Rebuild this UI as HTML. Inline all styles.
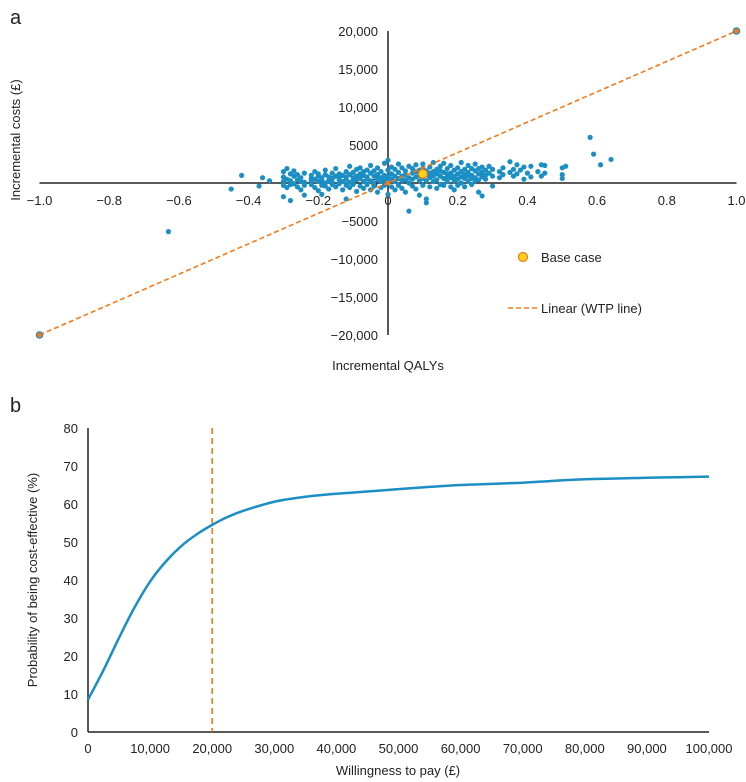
<!DOCTYPE html>
<html><head><meta charset="utf-8"><style>
html,body{margin:0;padding:0;background:#fff;}
svg{display:block;font-family:"Liberation Sans",Arial,sans-serif;}
text{fill:#222;}
</style></head><body>
<svg id="chart" width="746" height="782" viewBox="0 0 746 782" xmlns="http://www.w3.org/2000/svg"></svg>
<script>
// ---- Panel a data ----
const qalyGroups=[-0.30,-0.29,-0.28,-0.27,-0.26,-0.25,-0.24,-0.22,-0.21,-0.20,-0.19,-0.18,-0.17,-0.16,-0.15,-0.14,-0.13,-0.12,-0.11,-0.10,-0.09,-0.08,-0.07,-0.06,-0.05,-0.04,-0.03,-0.02,-0.01,0.00,0.01,0.02,0.03,0.04,0.05,0.06,0.07,0.08,0.09,0.10,0.11,0.12,0.13,0.14,0.15,0.16,0.17,0.18,0.19,0.20,0.21,0.22,0.23,0.24,0.25,0.26,0.27,0.28,0.29,0.30,0.32,0.33,0.35,0.36,0.37,0.38,0.39,0.40,0.41,0.43,0.44,0.45,0.50,0.51,0.58,0.59,0.61,0.64,-0.63,-0.45,-0.42,-0.37,-0.36,-0.34,-0.30,-0.28,-0.24,-0.19,-0.12,0.27,0.11];
const costGroups=[[1500,800,200,-300],[1900,500,-600],[1200,300,-200],[900,-100,1600],[400,1100,-500],[700,-900,200],[1300,100,-300],[600,1000,-200,300],[1500,-600,500],[200,900,-1000,1200],[700,-300,400],[1100,0,1700,-400],[300,-800,800],[1300,600,-200,100],[900,-500,1900],[400,1200,-100,700],[200,-900,1000],[1500,500,-300,800],[2200,100,-600,1100],[700,1400,-200,300],[1800,400,-1100,900],[600,1200,-400,2000],[200,1000,-700,1500],[1700,500,-200,800],[300,1300,-900,2300],[900,0,1600,-400],[1100,500,-1200,2000],[200,1500,700,-600],[1000,2600,-300,400],[800,1700,-1500,3000,300],[1200,500,-500,2100],[200,1800,900,-900],[1400,600,-300,2500],[900,2000,-700,300],[1600,400,-1200,1100],[700,2200,0,-3700],[1300,500,-400,1900],[800,2400,-800,1500],[300,1700,-1600,1000],[1900,600,-300,2500],[1100,300,-2100,1600],[700,2100,-500,1300],[1500,200,2700,900],[400,1800,-700,1200],[2200,900,-200,1600],[600,1400,2600,-300],[1900,800,200,1200],[1300,-500,2300,700],[900,1700,300,-900],[2000,1200,500,-300],[1500,2700,800,0],[600,1800,1100,-500],[2300,1400,200,900],[1000,1900,-200,600],[1600,2500,700,300],[1200,400,1900,-1200],[800,2100,1400],[1700,500,1000],[2200,1300],[900,1800,-400],[1500,700],[2000,1100],[1400,2800],[900,1800],[2400,1200],[1700],[500,2100],[1300],[2200,800],[1500],[900,2400],[2300,1300],[2000,600,1100],[2200],[6000],[3800],[2400],[3100],[-6400],[-800],[1000],[-400],[700],[300],[-1800],[-2300],[-1600],[-1500],[-2100],[-1700],[-2600]];
const baseCase=[0.1,1200];
const wtpLine=[[-1,-20000],[1,20000]];
const xTicksA=[-1.0,-0.8,-0.6,-0.4,-0.2,0,0.2,0.4,0.6,0.8,1.0];
const xTickLabelsA=["\u22121.0","\u22120.8","\u22120.6","\u22120.4","\u22120.2","0","0.2","0.4","0.6","0.8","1.0"];
const yTicksA=[20000,15000,10000,5000,0,-5000,-10000,-15000,-20000];
const yTickLabelsA=["20,000","15,000","10,000","5000","0","\u22125000","\u221210,000","\u221215,000","\u221220,000"];
// ---- Panel b data ----
const wtpValues=[0,2500,5000,7500,10000,12500,15000,17500,20000,22500,25000,30000,35000,40000,45000,50000,55000,60000,65000,70000,75000,80000,85000,90000,95000,100000];
const probValues=[8.5,16.3,24.8,32.8,39.6,44.8,48.9,52,54.5,56.6,58.2,60.6,61.9,62.7,63.3,63.9,64.5,65,65.3,65.6,66.1,66.5,66.7,66.9,67.05,67.2];
const wtpThreshold=20000;
const xTicksB=[0,10000,20000,30000,40000,50000,60000,70000,80000,90000,100000];
const xTickLabelsB=["0","10,000","20,000","30,000","40,000","50,000","60,000","70,000","80,000","90,000","100,000"];
const yTicksB=[0,10,20,30,40,50,60,70,80];

const NS="http://www.w3.org/2000/svg";
const svg=document.getElementById('chart');
function mk(tag,attrs,parent){const e=document.createElementNS(NS,tag);for(const k in attrs)e.setAttribute(k,attrs[k]);(parent||svg).appendChild(e);return e;}
function txt(s,attrs,parent){const e=mk('text',attrs,parent);e.textContent=s;return e;}

const BLUE="#1b8ec4",ORANGE="#f07a1c";
const xa=v=>388+v*348.5;
const ya=v=>183-v*0.0076;
const xb=v=>88+v*0.00621;
const yb=v=>732-v*3.8;

let e;
e=txt('a',{x:10,y:24,'font-size':20});

const axA=mk('g',{});

e=mk('line',{x1:xa(-1),x2:xa(1),y1:ya(0),y2:ya(0),stroke:'#222','stroke-width':1.5},axA);

e=mk('line',{x1:xa(0),x2:xa(0),y1:ya(20000),y2:ya(-20000),stroke:'#222','stroke-width':1.5},axA);

xTicksA.forEach((v,i)=>{const t=txt(xTickLabelsA[i],{x:xa(v),y:ya(0)+22,'font-size':13,'text-anchor':'middle'},axA);
});
yTicksA.forEach((v,i)=>{const t=txt(yTickLabelsA[i],{x:xa(0)-10,y:ya(v)+5,'font-size':13,'text-anchor':'end'},axA);
});
e=txt('Incremental costs (\u00a3)',{x:0,y:0,'font-size':13,'text-anchor':'middle',transform:'translate(20,140) rotate(-90)'});

e=txt('Incremental QALYs',{x:388,y:370,'font-size':13,'text-anchor':'middle'});


const pts=mk('g',{fill:BLUE});

qalyGroups.forEach((q,i)=>{costGroups[i].forEach(c=>{const p=mk('circle',{cx:xa(q),cy:ya(c),r:2.6},pts);
});});

e=mk('line',{x1:xa(wtpLine[0][0]),y1:ya(wtpLine[0][1]),x2:xa(wtpLine[1][0]),y2:ya(wtpLine[1][1]),stroke:ORANGE,'stroke-width':1.6,'stroke-dasharray':'5,3'});

wtpLine.forEach(p=>{const c=mk('circle',{cx:xa(p[0]),cy:ya(p[1]),r:3.2,fill:ORANGE,stroke:BLUE,'stroke-width':1.2});
});
mk('circle',{cx:xa(0),cy:ya(0),r:2.5,fill:ORANGE});
e=mk('circle',{cx:xa(baseCase[0]),cy:ya(baseCase[1]),r:4.5,fill:'#ffd21a',stroke:ORANGE,'stroke-width':1.2});


const leg=mk('g',{});

e=mk('circle',{cx:523,cy:257,r:4.5,fill:'#ffd21a',stroke:ORANGE,'stroke-width':1.2},leg);

e=txt('Base case',{x:541,y:262,'font-size':13},leg);

e=mk('line',{x1:508,x2:537,y1:308,y2:308,stroke:ORANGE,'stroke-width':1.6,'stroke-dasharray':'5,3'},leg);

e=txt('Linear (WTP line)',{x:541,y:313,'font-size':13},leg);


e=txt('b',{x:10,y:412,'font-size':20});

const axB=mk('g',{});

e=mk('line',{x1:xb(0),x2:xb(100000),y1:yb(0),y2:yb(0),stroke:'#222','stroke-width':1.5},axB);

e=mk('line',{x1:xb(0),x2:xb(0),y1:yb(80),y2:yb(0),stroke:'#222','stroke-width':1.5},axB);

xTicksB.forEach((v,i)=>{const t=txt(xTickLabelsB[i],{x:xb(v),y:yb(0)+21,'font-size':13,'text-anchor':'middle'},axB);
});
yTicksB.forEach(v=>{const t=txt(String(v),{x:xb(0)-10,y:yb(v)+5,'font-size':13,'text-anchor':'end'},axB);
});
e=txt('Probability of being cost-effective (%)',{x:0,y:0,'font-size':13,'text-anchor':'middle',transform:'translate(37,580) rotate(-90)'});

e=txt('Willingness to pay (\u00a3)',{x:398,y:775,'font-size':13,'text-anchor':'middle'});


e=mk('line',{x1:xb(wtpThreshold),x2:xb(wtpThreshold),y1:yb(80),y2:yb(0),stroke:ORANGE,'stroke-width':1.6,'stroke-dasharray':'6,4'});


const P=wtpValues.map((v,i)=>[xb(v),yb(probValues[i])]);
let d='M'+P[0][0]+','+P[0][1];
for(let i=0;i<P.length-1;i++){const p0=P[i-1]||P[i],p1=P[i],p2=P[i+1],p3=P[i+2]||P[i+1];
d+=' C'+(p1[0]+(p2[0]-p0[0])/6)+','+(p1[1]+(p2[1]-p0[1])/6)+' '+(p2[0]-(p3[0]-p1[0])/6)+','+(p2[1]-(p3[1]-p1[1])/6)+' '+p2[0]+','+p2[1];}
e=mk('path',{d:d,fill:'none',stroke:BLUE,'stroke-width':2.5});

</script>
</body></html>
